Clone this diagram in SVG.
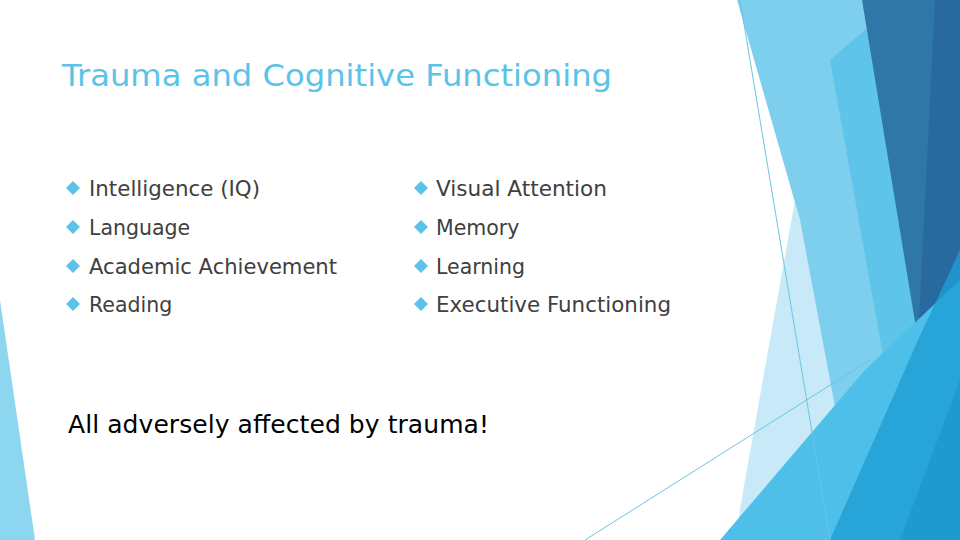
<svg xmlns="http://www.w3.org/2000/svg" width="960" height="540" viewBox="0 0 960 540">
<style>
.t{font-family:"DejaVu Sans",sans-serif;font-size:20.5px;fill:#404040}
.b{fill:#5bc3ea}
</style>
<defs><path id="d" d="M0,-7 L7,0 L0,7 L-7,0Z"/></defs>
<rect width="960" height="540" fill="#fff"/>
<g id="bg">
<polygon points="0,300 35,540 0,540" fill="#8dd6f0"/>
<polygon points="795,200 880,540 735,540 745,480" fill="#c8eaf8"/>
<polygon points="737,0 862,0 940,330 900,540 860,540 800,220" fill="#7ecfee"/>
<polygon points="830,60 900,0 940,330 900,450" fill="#5fc4ea"/>
<polygon points="862,0 960,0 960,230 918,340" fill="#2f77a6"/>
<polygon points="935,0 960,0 960,300 918,340" fill="#286aa0"/>
<polygon points="720,540 865,370 960,280 960,540" fill="#4dbfe8"/>
<polygon points="830,540 918,340 960,250 960,540" fill="#1e9fd4" opacity="0.8"/>
<polygon points="900,540 960,380 960,540" fill="#1b95cc" opacity="0.7"/>
<line x1="740" y1="0" x2="830" y2="540" stroke="#6cc4e4" stroke-width="1"/>
<line x1="585" y1="540" x2="870" y2="360" stroke="#6cc4e4" stroke-width="1"/>
</g>
<text x="62" y="86" font-family="'DejaVu Sans',sans-serif" font-size="30" fill="#5bc3e8" textLength="550" lengthAdjust="spacingAndGlyphs">Trauma and Cognitive Functioning</text>
<g id="left">
<use href="#d" x="73" y="188" class="b"/><text class="t" x="89" y="196" textLength="171" lengthAdjust="spacingAndGlyphs">Intelligence (IQ)</text>
<use href="#d" x="73" y="227" class="b"/><text class="t" x="89" y="235">Language</text>
<use href="#d" x="73" y="266" class="b"/><text class="t" x="89" y="274" textLength="248" lengthAdjust="spacingAndGlyphs">Academic Achievement</text>
<use href="#d" x="73" y="304" class="b"/><text class="t" x="89" y="312">Reading</text>
</g>
<g id="right">
<use href="#d" x="421" y="188" class="b"/><text class="t" x="436" y="196" textLength="171" lengthAdjust="spacingAndGlyphs">Visual Attention</text>
<use href="#d" x="421" y="227" class="b"/><text class="t" x="436" y="235">Memory</text>
<use href="#d" x="421" y="266" class="b"/><text class="t" x="436" y="274">Learning</text>
<use href="#d" x="421" y="304" class="b"/><text class="t" x="436" y="312" textLength="235" lengthAdjust="spacingAndGlyphs">Executive Functioning</text>
</g>
<text x="68" y="433" font-family="'DejaVu Sans',sans-serif" font-size="25" fill="#000" textLength="421">All adversely affected by trauma!</text>
</svg>
